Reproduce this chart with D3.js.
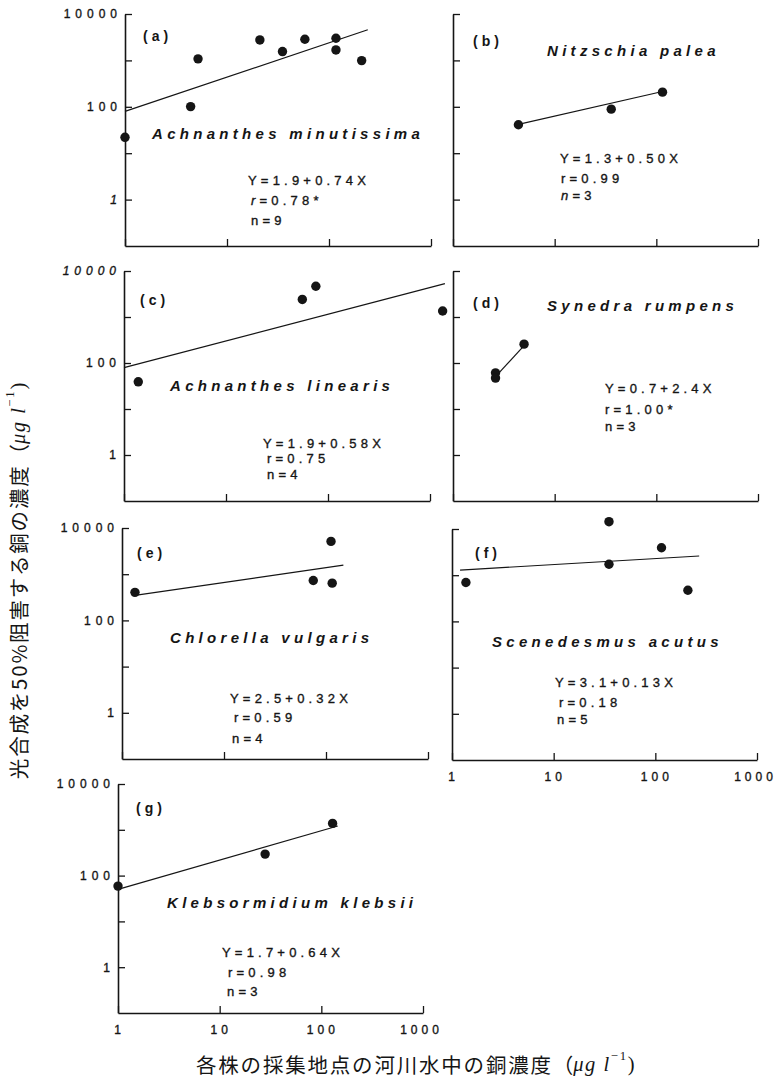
<!DOCTYPE html>
<html>
<head>
<meta charset="utf-8">
<script src="https://cdn.jsdelivr.net/npm/d3@7"></script>
<style>
  html, body { margin: 0; padding: 0; background: #fff; }
  svg { display: block; }
</style>
</head>
<body>
<svg id="chart" width="781" height="1082"></svg>
<script>
// ---- Data -------------------------------------------------------------
// Panels (a)–(g): one algal strain per panel
const panelLetters = ["a", "b", "c", "d", "e", "f", "g"];
const speciesNames = [
  "Achnanthes minutissima",
  "Nitzschia palea",
  "Achnanthes linearis",
  "Synedra rumpens",
  "Chlorella vulgaris",
  "Scenedesmus acutus",
  "Klebsormidium klebsii"
];

// Copper in river water at each collection site (µg/l) and
// copper concentration giving 50% inhibition of photosynthesis (µg/l)
const copperA = [1, 4.4, 5.2, 21, 35, 58, 117, 117, 209];
const ec50A   = [22, 101, 1080, 2760, 1550, 2850, 3000, 1680, 990];
const copperB = [4.4, 36, 115];
const ec50B   = [41, 89, 207];
const copperC = [1.38, 56, 76, 1330];
const ec50C   = [39, 2410, 4670, 1350];
const copperD = [2.62, 2.62, 5.0];
const ec50D   = [61, 47, 257];
const copperE = [1.34, 75, 112, 115];
const ec50E   = [405, 730, 5130, 640];
const copperF = [1.37, 35, 35, 115, 209];
const ec50F   = [695, 14400, 1730, 3920, 472];
const copperG = [1, 28, 129];
const ec50G   = [59, 295, 1380];

const copperSeries = [copperA, copperB, copperC, copperD, copperE, copperF, copperG];
const ec50Series   = [ec50A, ec50B, ec50C, ec50D, ec50E, ec50F, ec50G];

// Regression log10(EC50) = intercept + slope * log10(Cu)
const interceptText = ["1.9", "1.3", "1.9", "0.7", "2.5", "3.1", "1.7"];
const slopeText     = ["0.74", "0.50", "0.58", "2.4", "0.32", "0.13", "0.64"];
const rText         = ["0.78*", "0.99", "0.75", "1.00*", "0.59", "0.18", "0.98"];
const nCounts       = [9, 3, 4, 3, 4, 5, 3];
// Copper range (µg/l) covered by each fitted line
const fitFrom = [1, 4.4, 1, 2.62, 1.34, 1.2, 1];
const fitTo   = [240, 115, 1400, 5.0, 148, 270, 145];

// Axis ticks
const xTicks = [1, 10, 100, 1000];
const yTicks = [1, 10, 100, 1000, 10000];
const yLabelled = [1, 100, 10000];

const xTitle = "各株の採集地点の河川水中の銅濃度";
const yTitle = "光合成を50%阻害する銅の濃度";

// ---- Layout -------------------------------------------------------------
const layout = [
  { x0: 125, x1: 431, top: 14,  bottom: 246, yLab: true,  xLab: false,
    tag: [143, 36],  name: [152, 133], eq: [[248, 180], [251, 200], [251, 220]], italR: true },
  { x0: 453, x1: 758, top: 14,  bottom: 246, yLab: false, xLab: false,
    tag: [473, 41],  name: [547, 50],  eq: [[560, 158], [561, 178], [561, 195]], italN: true },
  { x0: 124, x1: 430, top: 271, bottom: 501, yLab: true,  xLab: false, italTop: true,
    tag: [140, 300], name: [170, 385], eq: [[263, 443], [267, 458], [267, 474]] },
  { x0: 453, x1: 758, top: 271, bottom: 501, yLab: false, xLab: false,
    tag: [473, 303], name: [547, 305], eq: [[605, 388], [605, 409], [605, 426]] },
  { x0: 122, x1: 428, top: 528, bottom: 759, yLab: true,  xLab: false,
    tag: [137, 553], name: [170, 637], eq: [[230, 698], [234, 717], [232, 738]] },
  { x0: 452, x1: 757, top: 529, bottom: 760, yLab: false, xLab: true,
    tag: [475, 553], name: [492, 641], eq: [[555, 682], [559, 702], [557, 719]] },
  { x0: 118, x1: 423, top: 784, bottom: 1013, yLab: true, xLab: true,
    tag: [136, 808], name: [167, 902], eq: [[222, 952], [228, 972], [227, 991]] }
];

const INK = "#151515";
const SANS = "'Liberation Sans', Arial, Helvetica, sans-serif";
const CJK = "'Noto Sans CJK JP', 'Noto Sans CJK SC', sans-serif";
const SERIF = "'Liberation Serif', 'DejaVu Serif', serif";

const svg = d3.select("#chart");

panelLetters.forEach((letter, i) => {
  const L = layout[i];
  const x = d3.scaleLog().domain([1, 1000]).range([L.x0, L.x1]);
  const y = d3.scaleLog().domain([0.1, 10000]).range([L.bottom, L.top]);
  const g = svg.append("g").attr("class", "panel panel-" + letter);

  // x axis (ticks point inward)
  const xAxis = d3.axisBottom(x)
    .tickValues(xTicks)
    .tickSizeInner(-7)
    .tickSizeOuter(0)
    .tickPadding(12)
    .tickFormat(d => L.xLab ? String(d) : "");
  const gx = g.append("g").attr("transform", `translate(0,${L.bottom})`).call(xAxis);

  // y axis
  const yAxis = d3.axisLeft(y)
    .tickValues(yTicks)
    .tickSizeInner(-7)
    .tickSizeOuter(0)
    .tickPadding(3)
    .tickFormat(d => (L.yLab && yLabelled.includes(d)) ? String(d) : "");
  const gy = g.append("g").attr("transform", `translate(${L.x0},0)`).call(yAxis);

  [gx, gy].forEach(ax => {
    ax.attr("font-family", SANS).attr("font-size", 12);
    ax.select(".domain").attr("stroke", INK).attr("stroke-width", 1.6);
    ax.selectAll(".tick line").attr("stroke", INK).attr("stroke-width", 1.3);
    ax.selectAll(".tick text")
      .attr("fill", INK)
      .attr("stroke", INK).attr("stroke-width", 0.35)
      .attr("letter-spacing", 5);
  });
  gx.selectAll(".tick text").attr("letter-spacing", 4).attr("dx", d => d === 1000 ? -2 : 1);
  gy.selectAll(".tick text")
    .attr("font-style", d => (L.italTop && d === 10000) || (L.italR && d === 1) ? "italic" : null);

  // fitted regression line
  const a = +interceptText[i], b = +slopeText[i];
  const X0 = Math.log10(fitFrom[i]), X1 = Math.log10(fitTo[i]);
  const fit = [X0, X1].map(X => [Math.pow(10, X), Math.pow(10, a + b * X)]);
  g.append("path")
    .datum(fit)
    .attr("fill", "none")
    .attr("stroke", INK)
    .attr("stroke-width", 1.2)
    .attr("d", d3.line().x(d => x(d[0])).y(d => y(d[1])));

  // measured strains
  const pts = copperSeries[i].map((c, k) => [c, ec50Series[i][k]]);
  g.selectAll("circle.obs")
    .data(pts)
    .join("circle")
    .attr("class", "obs")
    .attr("cx", d => x(d[0]))
    .attr("cy", d => y(d[1]))
    .attr("r", 4.7)
    .attr("fill", INK);

  // panel tag "(a)"
  g.append("text")
    .attr("x", L.tag[0]).attr("y", L.tag[1])
    .attr("dominant-baseline", "central")
    .attr("font-family", SANS).attr("font-size", 14).attr("font-weight", "bold")
    .attr("letter-spacing", 4)
    .attr("fill", INK)
    .text(`(${letter})`);

  // species name
  g.append("text")
    .attr("x", L.name[0]).attr("y", L.name[1])
    .attr("dominant-baseline", "central")
    .attr("font-family", SANS).attr("font-size", 15)
    .attr("font-weight", "bold").attr("font-style", "italic")
    .attr("letter-spacing", 4.3)
    .attr("fill", INK)
    .text(speciesNames[i]);

  // regression statistics
  const eqStyle = sel => sel
    .attr("dominant-baseline", "central")
    .attr("font-family", SANS).attr("font-size", 13)
    .attr("letter-spacing", 4.2)
    .attr("fill", INK)
    .attr("stroke", INK).attr("stroke-width", 0.35);

  g.append("text").call(eqStyle)
    .attr("x", L.eq[0][0]).attr("y", L.eq[0][1])
    .text(`Y=${interceptText[i]}+${slopeText[i]}X`);

  const rLine = g.append("text").call(eqStyle)
    .attr("x", L.eq[1][0]).attr("y", L.eq[1][1]);
  rLine.append("tspan").attr("font-style", L.italR ? "italic" : null).text("r");
  rLine.append("tspan").text("=" + rText[i]);

  const nLine = g.append("text").call(eqStyle)
    .attr("x", L.eq[2][0]).attr("y", L.eq[2][1]);
  nLine.append("tspan").attr("font-style", L.italN ? "italic" : null).text("n");
  nLine.append("tspan").text("=" + nCounts[i]);
});

// ---- Axis titles ------------------------------------------------------------
function unitSuffix(sel, size) {
  sel.append("tspan").attr("font-family", CJK).attr("letter-spacing", 0).text("（");
  sel.append("tspan").attr("font-family", SERIF).attr("font-style", "italic")
    .attr("letter-spacing", 1.5).text("μg l");
  sel.append("tspan").attr("font-family", SERIF).attr("font-size", size * 0.62)
    .attr("dy", -size * 0.38).text("−1");
  sel.append("tspan").attr("font-family", SERIF).attr("dy", size * 0.38).text(")");
}

const xt = svg.append("text")
  .attr("x", 196).attr("y", 1064)
  .attr("dominant-baseline", "central")
  .attr("font-family", CJK).attr("font-size", 20.5)
  .attr("letter-spacing", 1.8)
  .attr("fill", INK);
xt.append("tspan").text(xTitle);
unitSuffix(xt, 20.5);

const yt = svg.append("text")
  .attr("transform", "translate(18,580) rotate(-90)")
  .attr("text-anchor", "middle")
  .attr("dominant-baseline", "central")
  .attr("font-family", CJK).attr("font-size", 20.5)
  .attr("letter-spacing", 1.8)
  .attr("fill", INK);
yt.append("tspan").text(yTitle);
unitSuffix(yt, 20.5);
</script>
</body>
</html>
